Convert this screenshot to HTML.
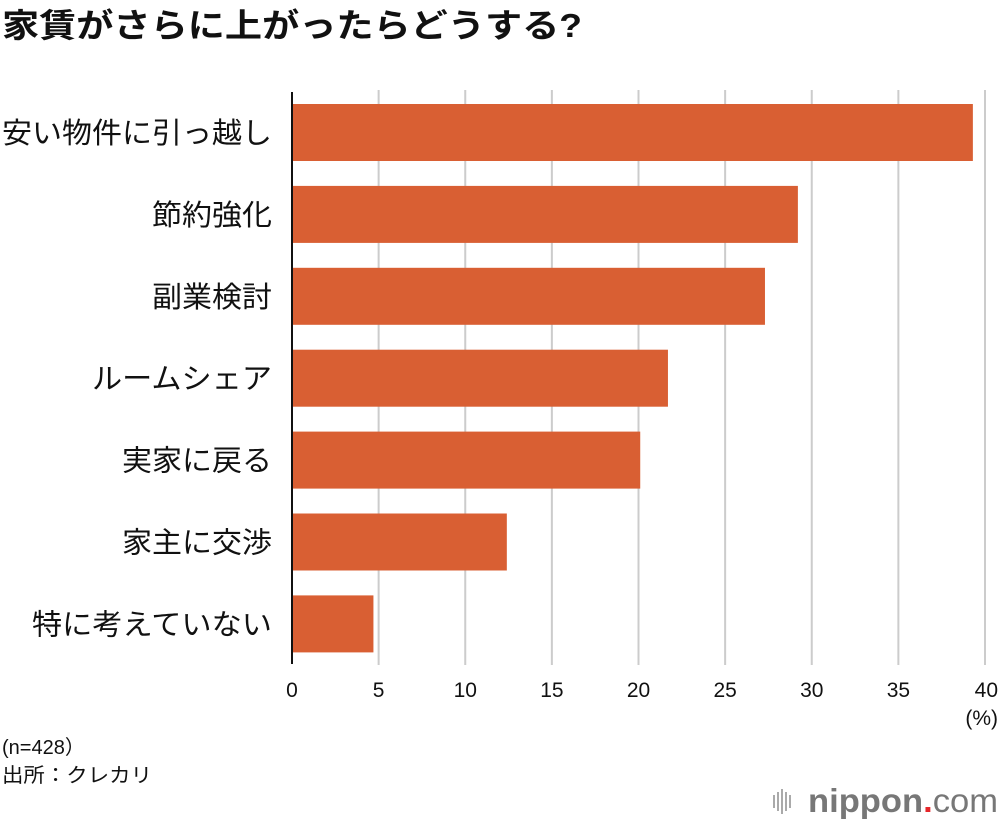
<!DOCTYPE html>
<html><head><meta charset="utf-8"><style>
body{margin:0;background:#fff;width:1000px;height:824px;overflow:hidden;font-family:"Liberation Sans","Noto Sans CJK JP",sans-serif;}
</style></head><body>
<svg width="1000" height="824" xmlns="http://www.w3.org/2000/svg" font-family="Liberation Sans, Noto Sans CJK JP, sans-serif">
<text x="2" y="37" font-size="33" font-weight="bold" fill="#111" textLength="580" lengthAdjust="spacingAndGlyphs">家賃がさらに上がったらどうする?</text>
<g id="grid"></g>
<g id="bars"></g>
<line x1="292" y1="92" x2="292" y2="664" stroke="#111" stroke-width="2"/>
<g id="ticks"></g>
<g id="cats"></g>
<text x="998" y="725" font-size="21" text-anchor="end" fill="#111">(%)</text>
<text x="2" y="754" font-size="20" fill="#111">(n=428）</text>
<text x="2" y="782" font-size="20" fill="#111" textLength="150" lengthAdjust="spacingAndGlyphs">出所：クレカリ</text>
<g>
<g fill="#aaa"><rect x="773" y="795" width="2" height="13"/><rect x="777" y="792" width="2" height="19"/><rect x="781" y="789" width="2" height="25"/><rect x="785" y="792" width="2" height="19"/><rect x="789" y="795" width="2" height="13"/></g>
<text x="808" y="812" font-size="33" fill="#777" font-weight="bold" textLength="190" lengthAdjust="spacingAndGlyphs">nippon<tspan fill="#e5262a">.</tspan><tspan font-weight="normal">com</tspan></text>
</g>
</svg>
<script>
const categories=["安い物件に引っ越し","節約強化","副業検討","ルームシェア","実家に戻る","家主に交渉","特に考えていない"];
const values=[39.3,29.2,27.3,21.7,20.1,12.4,4.7];
const ticks=[0,5,10,15,20,25,30,35,40];
const NS="http://www.w3.org/2000/svg";
const x=v=>292+v*(985-292)/40;
const y=i=>104+i*81.9;
function mk(t,a,p){const e=document.createElementNS(NS,t);for(const k in a)e.setAttribute(k,a[k]);p.appendChild(e);return e;}
const grid=document.getElementById('grid'),tg=document.getElementById('ticks'),bg=document.getElementById('bars'),cg=document.getElementById('cats');
ticks.forEach(t=>{
 if(t>0){const l=mk('line',{x1:x(t),x2:x(t),y1:90,y2:665,stroke:'#ccc','stroke-width':2},grid);
 
 }
 const tx=mk('text',{x:t===40?998:x(t),y:697,'font-size':21,'text-anchor':t===40?'end':'middle',fill:'#111'},tg);
 tx.textContent=t;
 
 
});
values.forEach((v,i)=>{
 const r=mk('rect',{x:292,y:y(i),width:x(v)-292,height:57,fill:'#d95f33'},bg);
 
 
 const n=categories[i].length;
 const c=mk('text',{x:272,y:y(i)+39,'font-size':29,'text-anchor':'end',fill:'#111',textLength:n*30,lengthAdjust:'spacingAndGlyphs'},cg);
 c.textContent=categories[i];
 
 
});
</script>
</body></html>
